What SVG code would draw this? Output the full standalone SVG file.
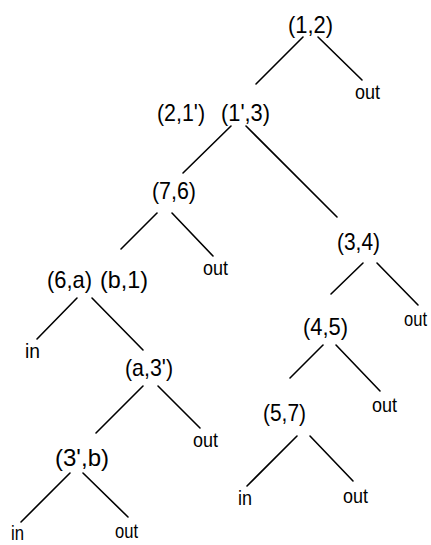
<svg xmlns="http://www.w3.org/2000/svg" width="431" height="545" viewBox="0 0 431 545">
<style>
.p{font-family:"Liberation Sans",Arial,sans-serif;font-size:24px;fill:#000;text-anchor:start}
.o{font-family:"Liberation Sans",Arial,sans-serif;font-size:20px;fill:#000;text-anchor:start}
.e{stroke:#000;stroke-width:1.6;fill:none;stroke-linecap:round}
</style>
<rect width="431" height="545" fill="#fff"/>
<g id="connectors">
<line class="e" x1="303" y1="37" x2="256" y2="84"/>
<line class="e" x1="318" y1="37" x2="362" y2="80"/>
<line class="e" x1="231" y1="126" x2="183" y2="173"/>
<line class="e" x1="246" y1="126" x2="337" y2="217"/>
<line class="e" x1="157" y1="213" x2="121" y2="249"/>
<line class="e" x1="172" y1="213" x2="213" y2="256"/>
<line class="e" x1="363" y1="263" x2="331" y2="294"/>
<line class="e" x1="377" y1="263" x2="418" y2="305"/>
<line class="e" x1="77" y1="298" x2="37" y2="339"/>
<line class="e" x1="92" y1="298" x2="143" y2="350"/>
<line class="e" x1="323" y1="345" x2="290" y2="378"/>
<line class="e" x1="336" y1="345" x2="380" y2="391"/>
<line class="e" x1="143" y1="386" x2="96" y2="433"/>
<line class="e" x1="158" y1="386" x2="200" y2="428"/>
<line class="e" x1="70" y1="473" x2="21" y2="522"/>
<line class="e" x1="83" y1="473" x2="128" y2="517"/>
<line class="e" x1="297" y1="436" x2="247" y2="486"/>
<line class="e" x1="310" y1="436" x2="353" y2="481"/>
</g>
<g id="n12"><text class="p" x="288" y="33" textLength="45" lengthAdjust="spacingAndGlyphs">(1,2)</text></g>
<g id="out1"><text class="o" x="355" y="99" textLength="25" lengthAdjust="spacingAndGlyphs">out</text></g>
<g id="n21_13"><text class="p" x="157" y="121" textLength="48" lengthAdjust="spacingAndGlyphs">(2,1')</text><text class="p" x="221" y="121" textLength="49" lengthAdjust="spacingAndGlyphs">(1',3)</text></g>
<g id="n76"><text class="p" x="152" y="199" textLength="44" lengthAdjust="spacingAndGlyphs">(7,6)</text></g>
<g id="out2"><text class="o" x="203" y="275" textLength="25" lengthAdjust="spacingAndGlyphs">out</text></g>
<g id="n34"><text class="p" x="337" y="250" textLength="43" lengthAdjust="spacingAndGlyphs">(3,4)</text></g>
<g id="out3"><text class="o" x="404" y="326" textLength="23" lengthAdjust="spacingAndGlyphs">out</text></g>
<g id="n6a_b1"><text class="p" x="47" y="288" textLength="45" lengthAdjust="spacingAndGlyphs">(6,a)</text><text class="p" x="100" y="288" textLength="48" lengthAdjust="spacingAndGlyphs">(b,1)</text></g>
<g id="in1"><text class="o" x="25" y="358" textLength="15" lengthAdjust="spacingAndGlyphs">in</text></g>
<g id="n45"><text class="p" x="303" y="335" textLength="45" lengthAdjust="spacingAndGlyphs">(4,5)</text></g>
<g id="na3"><text class="p" x="125" y="376" textLength="48" lengthAdjust="spacingAndGlyphs">(a,3')</text></g>
<g id="out4"><text class="o" x="193" y="447" textLength="25" lengthAdjust="spacingAndGlyphs">out</text></g>
<g id="n3b"><text class="p" x="55" y="466" textLength="54" lengthAdjust="spacingAndGlyphs">(3',b)</text></g>
<g id="in2"><text class="o" x="11" y="540" textLength="13" lengthAdjust="spacingAndGlyphs">in</text></g>
<g id="out5"><text class="o" x="115" y="538" textLength="23" lengthAdjust="spacingAndGlyphs">out</text></g>
<g id="n57"><text class="p" x="263" y="421" textLength="43" lengthAdjust="spacingAndGlyphs">(5,7)</text></g>
<g id="out6"><text class="o" x="372" y="412" textLength="25" lengthAdjust="spacingAndGlyphs">out</text></g>
<g id="in3"><text class="o" x="238" y="505" textLength="14" lengthAdjust="spacingAndGlyphs">in</text></g>
<g id="out7"><text class="o" x="343" y="503" textLength="25" lengthAdjust="spacingAndGlyphs">out</text></g>
</svg>
